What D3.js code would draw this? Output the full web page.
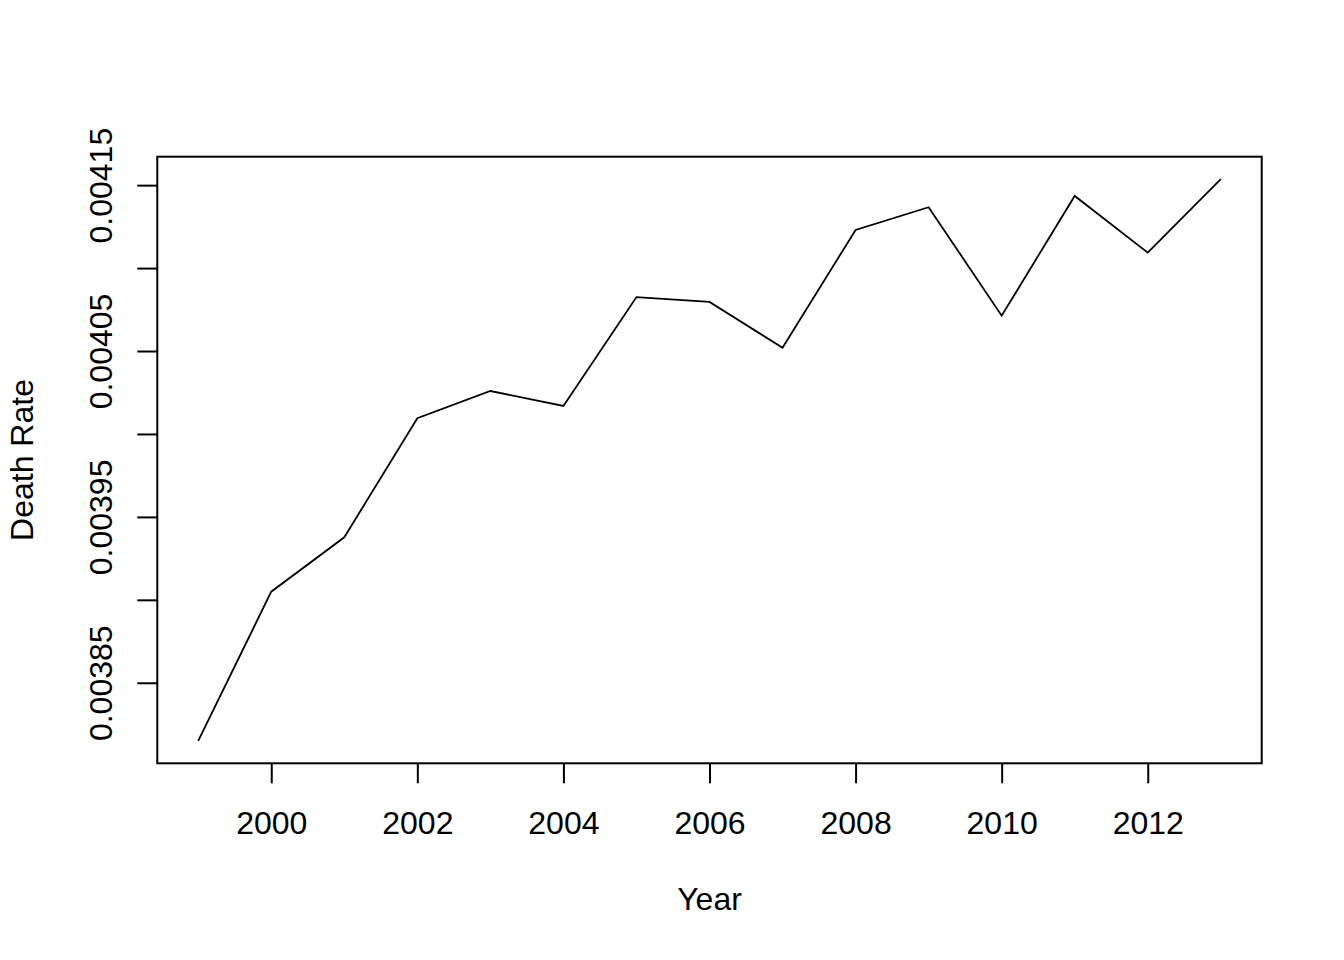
<!DOCTYPE html>
<html>
<head>
<meta charset="utf-8">
<script src="https://cdn.jsdelivr.net/npm/d3@7"></script>
<style>
  html, body { margin: 0; padding: 0; background: #fff; }
  svg { display: block; font-family: "Liberation Sans", Arial, sans-serif; }
</style>
</head>
<body>
<svg id="chart" width="1344" height="960"></svg>
<script>
// ---- data ----
const years = [1999, 2000, 2001, 2002, 2003, 2004, 2005, 2006, 2007, 2008, 2009, 2010, 2011, 2012, 2013];
const deathRate = [0.003815, 0.0039049, 0.0039377, 0.0040095, 0.0040259, 0.0040169, 0.0040825,
                   0.0040796, 0.0040520, 0.0041230, 0.0041367, 0.0040713, 0.0041435, 0.0041093, 0.0041536];
const xTicks = [2000, 2002, 2004, 2006, 2008, 2010, 2012];
const yTicks = [0.00385, 0.00390, 0.00395, 0.00400, 0.00405, 0.00410, 0.00415];
const yTickLabels = ["0.00385", "", "0.00395", "", "0.00405", "", "0.00415"];
const xLabel = "Year";
const yLabel = "Death Rate";

// ---- layout ----
const box = { left: 157.3, right: 1261.7, top: 156.7, bottom: 763.3 };
const svg = d3.select("#chart");

// R-style 4% axis extension
function extend(ext) { const r = ext[1] - ext[0]; return [ext[0] - 0.04 * r, ext[1] + 0.04 * r]; }
const x = d3.scaleLinear().domain(extend(d3.extent(years))).range([box.left, box.right]);
const y = d3.scaleLinear().domain(extend(d3.extent(deathRate))).range([box.bottom, box.top]);

// line
const line = d3.line().x((d, i) => x(years[i])).y(d => y(d));
svg.append("path")
  .datum(deathRate)
  .attr("d", line)
  .attr("fill", "none")
  .attr("stroke", "#000")
  .attr("stroke-width", 1.8)
  .attr("stroke-linejoin", "miter");

// box
svg.append("rect")
  .attr("x", box.left).attr("y", box.top)
  .attr("width", box.right - box.left).attr("height", box.bottom - box.top)
  .attr("fill", "none").attr("stroke", "#000").attr("stroke-width", 2);

// x axis
const gx = svg.append("g")
  .attr("transform", `translate(0,${box.bottom})`)
  .call(d3.axisBottom(x).tickValues(xTicks).tickSize(20).tickPadding(28).tickFormat(d3.format("d")));
gx.select(".domain").remove();
gx.selectAll(".tick line").attr("stroke", "#000").attr("stroke-width", 2);
gx.selectAll(".tick text").attr("fill", "#000").attr("font-size", 32)
  .attr("font-family", "'Liberation Sans', Arial, sans-serif");

// y axis
const labelMap = new Map(yTicks.map((t, i) => [t, yTickLabels[i]]));
const gy = svg.append("g")
  .attr("transform", `translate(${box.left},0)`)
  .call(d3.axisLeft(y).tickValues(yTicks).tickSize(20).tickFormat(d => labelMap.get(d)));
gy.select(".domain").remove();
gy.selectAll(".tick line").attr("stroke", "#000").attr("stroke-width", 2);
gy.selectAll(".tick text")
  .attr("fill", "#000").attr("font-size", 32)
  .attr("font-family", "'Liberation Sans', Arial, sans-serif")
  .attr("transform", "rotate(-90)")
  .attr("text-anchor", "middle")
  .attr("x", 0).attr("y", -45.6).attr("dy", 0);

// axis titles
svg.append("text")
  .attr("x", (box.left + box.right) / 2).attr("y", 910)
  .attr("text-anchor", "middle").attr("font-size", 32).attr("fill", "#000")
  .text(xLabel);
svg.append("text")
  .attr("transform", `translate(33.3,${(box.top + box.bottom) / 2}) rotate(-90)`)
  .attr("text-anchor", "middle").attr("font-size", 32).attr("fill", "#000")
  .text(yLabel);
</script>
</body>
</html>
